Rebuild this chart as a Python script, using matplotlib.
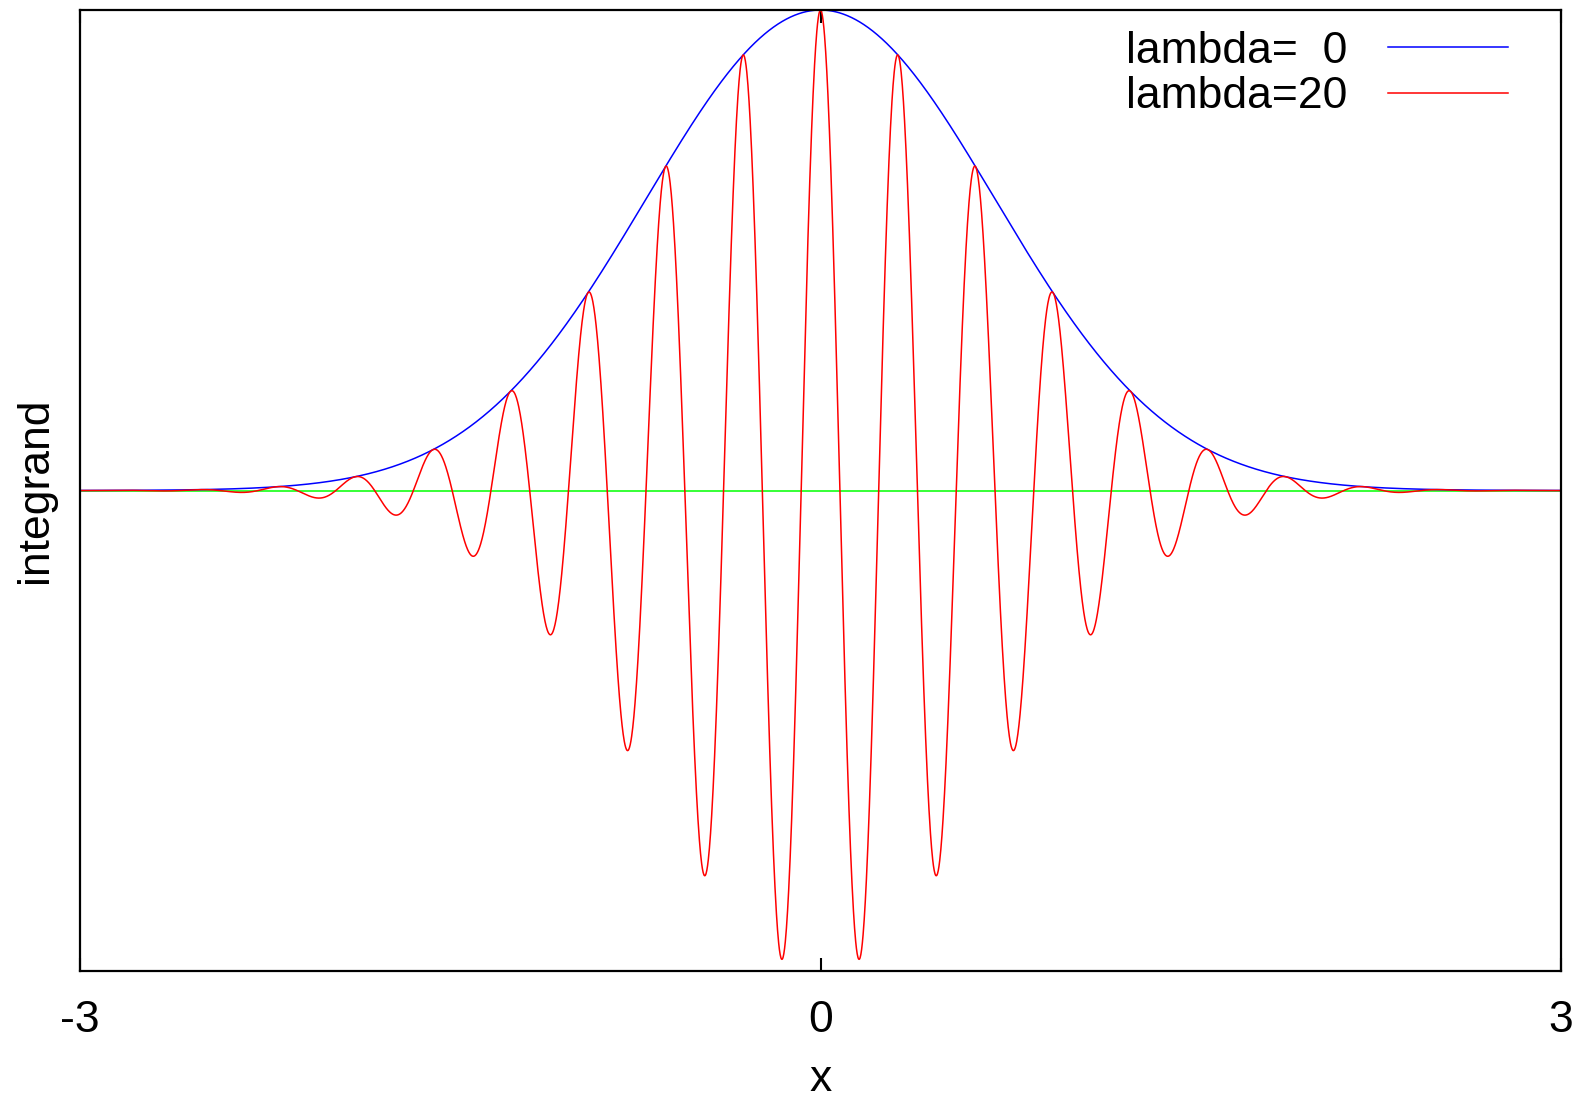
import numpy as np
import matplotlib
matplotlib.use("Agg")
import matplotlib.pyplot as plt

# parameters of the plotted integrand exp(-x^2) * cos(lambda * x)
lambdas = [0, 20]
labels = ["lambda=  0", "lambda=20"]
colors = ["#0000ff", "#ff0000"]
x_range = [-3, 3]
x_ticks = [-3, 0, 3]
y_range = [-1, 1]

plt.rcParams["font.family"] = ["Liberation Sans", "DejaVu Sans"]

fig = plt.figure(figsize=(15.85, 11.04), dpi=100)
ax = fig.add_axes([80 / 1585, 133 / 1104, (1561 - 80) / 1585, (971 - 10) / 1104])

x = np.linspace(x_range[0], x_range[1], 4001)
ax.axhline(0, color="#00ff00", lw=1.1, zorder=1)
for lam, lab, c in zip(lambdas, labels, colors):
    y = np.exp(-x ** 2) * np.cos(lam * x)
    ax.plot(x, y, color=c, lw=1.1, label=lab, zorder=2)

ax.set_xlim(*x_range)
ax.set_ylim(*y_range)
ax.set_xticks(x_ticks)
ax.set_xticklabels([str(t) for t in x_ticks])
ax.set_yticks([])
ax.tick_params(axis="x", direction="in", top=True, length=9.5, width=1.5,
               labelsize=32, pad=21)
for s in ax.spines.values():
    s.set_linewidth(1.6)

ax.set_xlabel("x", fontsize=32, labelpad=13)
ax.set_ylabel("integrand", fontsize=32, labelpad=17)

leg = ax.legend(loc="upper right", frameon=False, fontsize=32, markerfirst=False,
                handlelength=2.7, handletextpad=0.9, labelspacing=0.1,
                borderaxespad=0.2, bbox_to_anchor=(0.982, 1.006))

fig.savefig("out.png", dpi=100)
